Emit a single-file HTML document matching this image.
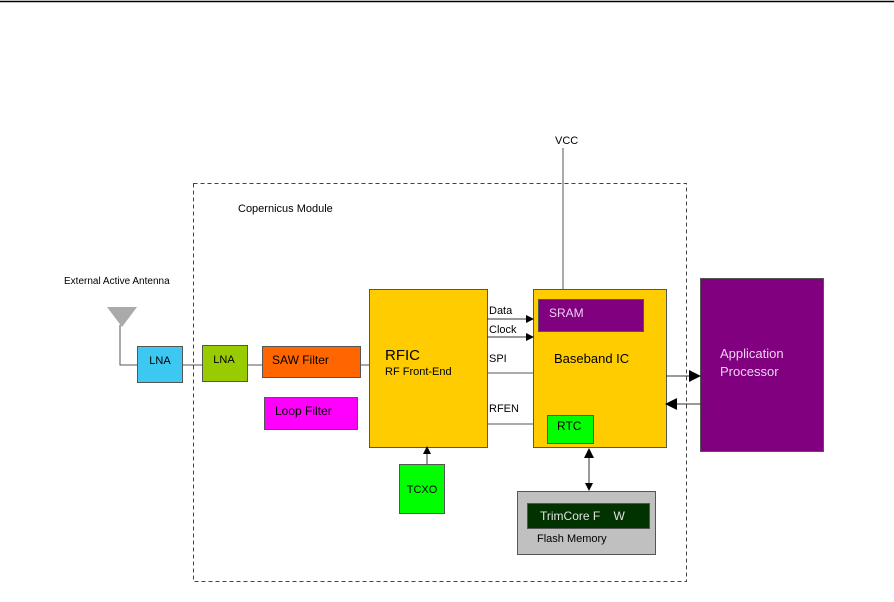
<!DOCTYPE html>
<html><head><style>
body{margin:0;background:#fff;}
svg text{font-family:"Liberation Sans",sans-serif;}
</style></head><body>
<svg width="894" height="597" viewBox="0 0 894 597" xmlns="http://www.w3.org/2000/svg">
<defs><marker id="a" markerWidth="8" markerHeight="8" refX="7" refY="4" orient="auto" markerUnits="userSpaceOnUse"><path d="M0,0 L8,4 L0,8z" fill="#000"/></marker>
<marker id="b" markerWidth="12" markerHeight="12" refX="11" refY="6" orient="auto" markerUnits="userSpaceOnUse"><path d="M0,0 L12,6 L0,12z" fill="#000"/></marker>
<marker id="s" markerWidth="10" markerHeight="10" refX="1" refY="5" orient="auto" markerUnits="userSpaceOnUse"><path d="M10,0 L0,5 L10,10z" fill="#000"/></marker></defs>
<line x1="0" y1="1.5" x2="894" y2="1.5" stroke="#000" stroke-width="1.5"/>
<rect x="193.5" y="183.5" width="493" height="398" fill="none" stroke="#444" stroke-dasharray="4,3"/>
<text x="238" y="212" font-size="11">Copernicus Module</text>
<text x="555" y="144" font-size="11">VCC</text>
<line x1="563" y1="148" x2="563" y2="299" stroke="#555"/>
<text x="64" y="284" font-size="10">External Active Antenna</text>
<path d="M107,307 L137,307 L122,327z" fill="#aaa"/>
<polyline points="120,325 120,365 137,365" fill="none" stroke="#555"/>
<line x1="183" y1="365" x2="202" y2="365" stroke="#555"/>
<line x1="247" y1="365" x2="262" y2="365" stroke="#555"/>
<line x1="360" y1="365" x2="369" y2="365" stroke="#555"/>
<rect x="137.5" y="346.5" width="45" height="36" fill="#3cc8f0" stroke="#555"/>
<text x="160" y="364" font-size="11" text-anchor="middle">LNA</text>
<rect x="202.5" y="345.5" width="45" height="36" fill="#99cc00" stroke="#555"/>
<text x="224" y="363" font-size="11" text-anchor="middle">LNA</text>
<rect x="262.5" y="346.5" width="98" height="31" fill="#ff6600" stroke="#555"/>
<text x="272" y="364" font-size="12">SAW Filter</text>
<rect x="264.5" y="397.5" width="93" height="32" fill="#ff00ff" stroke="#555"/>
<text x="275" y="415" font-size="12">Loop Filter</text>
<rect x="369.5" y="289.5" width="118" height="158" fill="#ffcc00" stroke="#555"/>
<text x="385" y="360" font-size="15">RFIC</text>
<text x="385" y="375" font-size="11">RF Front-End</text>
<rect x="533.5" y="289.5" width="133" height="158" fill="#ffcc00" stroke="#555"/>
<rect x="538.5" y="299.5" width="105" height="32" fill="#800080" stroke="#555"/>
<text x="549" y="317" font-size="12" fill="#f0d0f0">SRAM</text>
<text x="554" y="363" font-size="13">Baseband  IC</text>
<rect x="547.5" y="415.5" width="46" height="28" fill="#00ff00" stroke="#555"/>
<text x="557" y="430" font-size="12">RTC</text>
<line x1="487" y1="319" x2="533" y2="319" stroke="#333" marker-end="url(#a)"/>
<line x1="487" y1="337" x2="533" y2="337" stroke="#333" marker-end="url(#a)"/>
<text x="489" y="314" font-size="11">Data</text>
<text x="489" y="333" font-size="11">Clock</text>
<text x="489" y="362" font-size="11">SPI</text>
<line x1="487" y1="373" x2="533" y2="373" stroke="#555"/>
<text x="489" y="412" font-size="11">RFEN</text>
<line x1="487" y1="424" x2="533" y2="424" stroke="#555"/>
<rect x="700.5" y="278.5" width="123" height="173" fill="#800080" stroke="#555"/>
<text x="720" y="358" font-size="13" fill="#f0d0f0">Application</text>
<text x="720" y="376" font-size="13" fill="#f0d0f0">Processor</text>
<line x1="666" y1="376" x2="700" y2="376" stroke="#333" marker-end="url(#b)"/>
<line x1="705" y1="404" x2="666" y2="404" stroke="#333" marker-end="url(#b)"/>
<line x1="589" y1="449" x2="589" y2="490" stroke="#333" marker-start="url(#s)" marker-end="url(#a)"/>
<rect x="517.5" y="491.5" width="138" height="63" fill="#c0c0c0" stroke="#555"/>
<rect x="527.5" y="503.5" width="122" height="25" fill="#003300" stroke="#555"/>
<text x="540" y="520" font-size="12" fill="#e0e0e0" xml:space="preserve">TrimCore F    W</text>
<text x="537" y="542" font-size="11">Flash Memory</text>
<rect x="399.5" y="464.5" width="45" height="49" fill="#00ff00" stroke="#555"/>
<text x="422" y="493" font-size="11" text-anchor="middle">TCXO</text>
<line x1="427" y1="464" x2="427" y2="447" stroke="#333" marker-end="url(#a)"/>
</svg>
</body></html>
